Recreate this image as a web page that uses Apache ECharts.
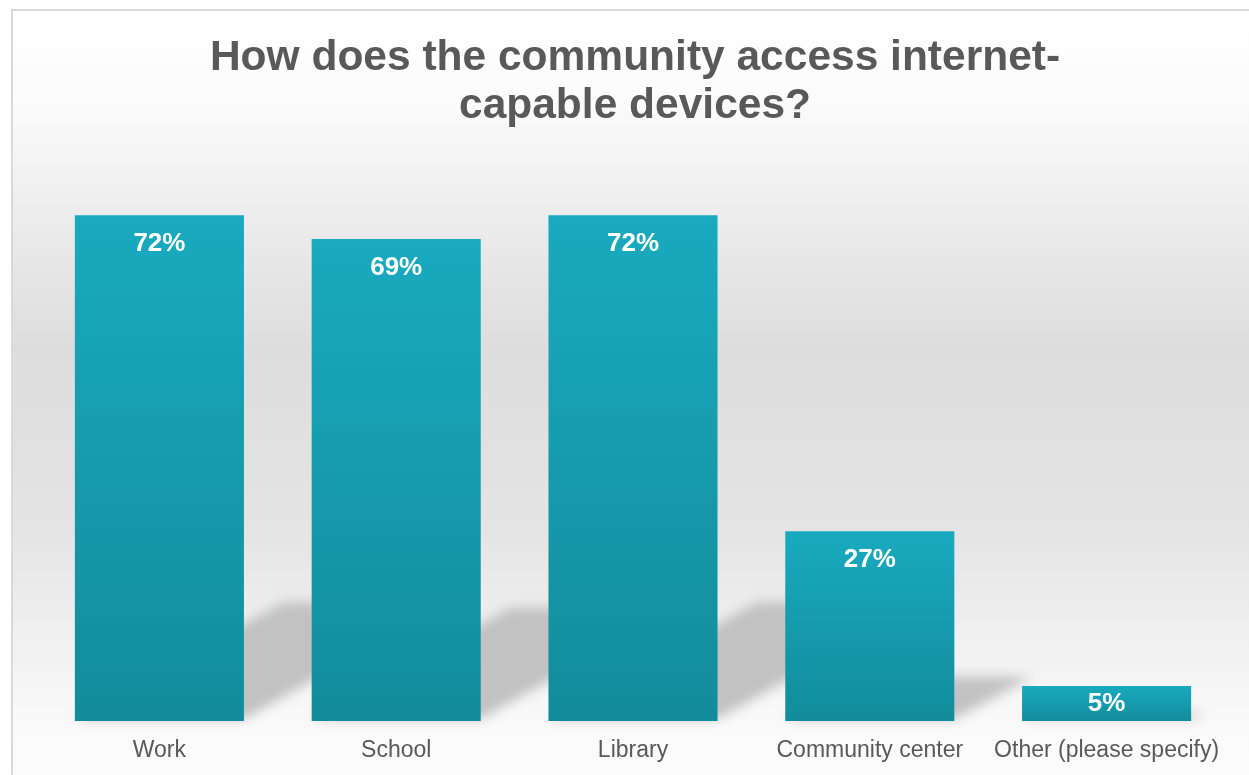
<!DOCTYPE html>
<html>
<head>
<meta charset="utf-8">
<title>Internet-capable devices</title>
<script src="https://cdn.jsdelivr.net/npm/echarts@6/dist/echarts.min.js"></script>
<style>
    html, body { margin: 0; padding: 0; background: #fff; }
    #main { width: 1249px; height: 775px; }
</style>
</head>
<body>
<div id="main"></div>
<script>
// data
var categories = ['Work', 'School', 'Library', 'Community center', 'Other (please specify)'];
var values = [72, 68.6, 72, 27, 5];

var titleText = 'How does the community access internet-\ncapable devices?';
var barGapRatio = 0.714; // bar width / category width

var myChart = echarts.init(document.getElementById('main'));

// floor shadow behind each bar (shape drawn off screen, only its blurred shadow shows)
function renderShadow(params, api) {
    var idx = api.value(0);
    var top = api.coord([idx, api.value(1)]);
    var base = api.coord([idx, 0]);
    var bw = api.size([1, 0])[0] * barGapRatio;
    var off = 3000;
    var left = base[0] - bw / 2 - off;
    var right = base[0] + bw / 2 - off;
    var h = (base[1] - top[1]) * 0.235;
    var dx = h * 1.75;
    return {
        type: 'polygon',
        shape: {
            points: [
                [left, base[1] - 2],
                [right, base[1] - 2],
                [right + dx, base[1] - h],
                [left + dx, base[1] - h]
            ]
        },
        style: {
            fill: '#c4c4c4',
            shadowBlur: 12,
            shadowColor: '#c2c2c2',
            shadowOffsetX: off
        }
    };
}

var shadowData = [];
for (var i = 0; i < values.length; i++) {
    shadowData.push([i, values[i]]);
}

// the small last bar keeps its label in the middle
var barData = [];
for (var j = 0; j < values.length; j++) {
    if (values[j] < 10) {
        barData.push({ value: values[j], label: { position: 'inside' } });
    } else {
        barData.push(values[j]);
    }
}

var option = {
    animation: false,
    graphic: [{
        type: 'rect',
        z: -10,
        silent: true,
        shape: { x: 12, y: 10, width: 1240, height: 770 },
        style: {
            fill: new echarts.graphic.LinearGradient(0, 0, 0, 1, [
                { offset: 0, color: '#ffffff' },
                { offset: 0.12, color: '#fbfbfb' },
                { offset: 0.25, color: '#eeeeee' },
                { offset: 0.44, color: '#dddddd' },
                { offset: 0.67, color: '#e4e4e4' },
                { offset: 0.8, color: '#efefef' },
                { offset: 0.93, color: '#fafafa' },
                { offset: 1, color: '#fbfbfb' }
            ]),
            stroke: '#d9d9d9',
            lineWidth: 2
        }
    }],
    title: {
        text: titleText,
        left: 630,
        top: 29,
        textAlign: 'center',
        textStyle: {
            fontFamily: 'Liberation Sans',
            fontSize: 42.5,
            fontWeight: 'bold',
            color: '#595959',
            lineHeight: 48
        }
    },
    grid: {
        left: 41,
        right: 24,
        top: 159,
        bottom: 54,
        containLabel: false
    },
    xAxis: {
        type: 'category',
        data: categories,
        axisLine: { show: false },
        axisTick: { show: false },
        axisLabel: {
            interval: 0,
            margin: 18,
            fontFamily: 'Liberation Sans',
            fontSize: 23,
            color: '#595959'
        }
    },
    yAxis: {
        type: 'value',
        min: 0,
        max: 80,
        show: false,
        splitLine: { show: false }
    },
    series: [{
        type: 'custom',
        renderItem: renderShadow,
        data: shadowData,
        z: 1,
        silent: true
    }, {
        type: 'bar',
        data: barData,
        z: 5,
        barCategoryGap: '28.6%',
        itemStyle: {
            color: new echarts.graphic.LinearGradient(0, 0, 0, 1, [
                { offset: 0, color: '#19aabf' },
                { offset: 1, color: '#128c9b' }
            ])
        },
        label: {
            show: true,
            position: 'insideTop',
            distance: 16,
            formatter: function(p) {
                return Math.round(p.value) + '%';
            },
            fontFamily: 'Liberation Sans',
            fontSize: 26,
            fontWeight: 'bold',
            color: '#ffffff'
        }
    }]
};

myChart.setOption(option);
</script>
</body>
</html>
